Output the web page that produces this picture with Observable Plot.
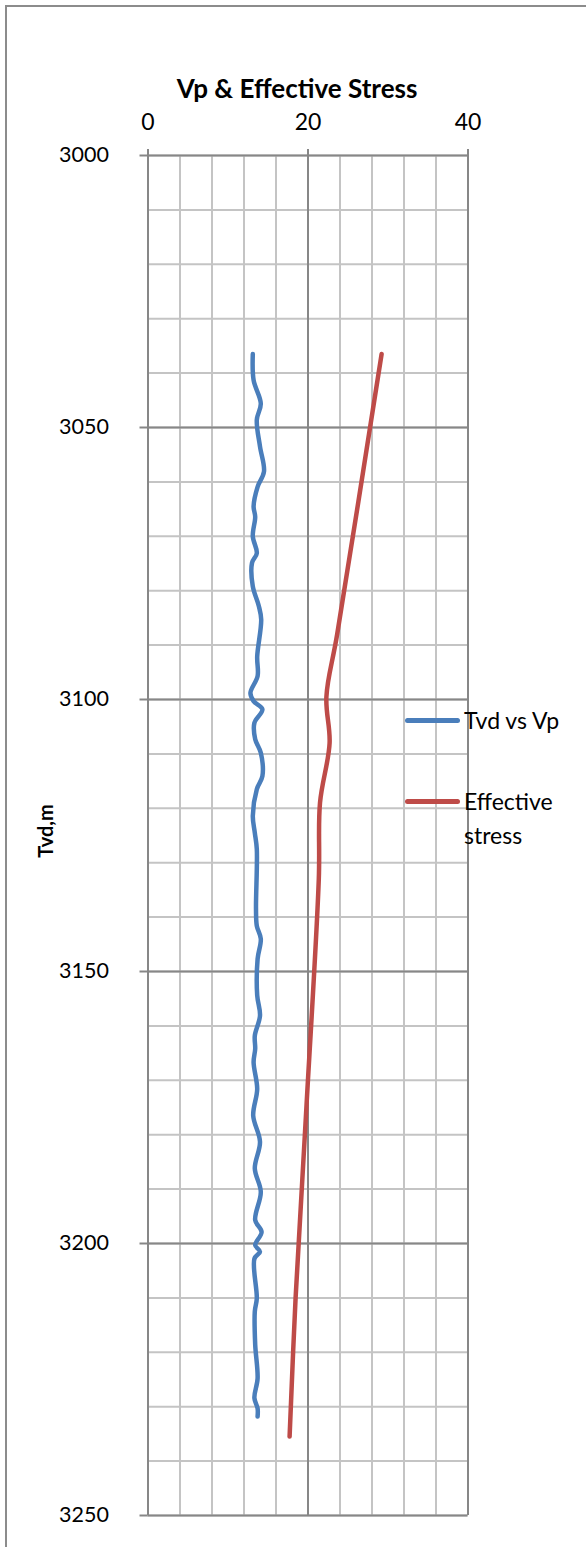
<!DOCTYPE html>
<html>
<head>
<meta charset="utf-8">
<script src="https://cdn.jsdelivr.net/npm/d3@7"></script>
<script src="https://cdn.jsdelivr.net/npm/@observablehq/plot@0.6"></script>
<style>
  html, body { margin: 0; padding: 0; background: #fff; }
  #wrap { position: relative; width: 586px; height: 1547px; overflow: hidden; font-family: Lato, "Open Sans", sans-serif; }
  #frame { position: absolute; left: 5px; top: 5px; width: 600px; height: 1600px; border-left: 2px solid #8c8c8c; border-top: 2px solid #8c8c8c; }
  #title { position: absolute; left: 0; width: 594px; top: 88px; transform: translateY(-50%); text-align: center; font-weight: bold; font-size: 26px; color: #000; }
  #ytitle { position: absolute; left: 45px; top: 831px; transform: translate(-50%, -50%) rotate(-90deg); font-weight: bold; font-size: 20px; white-space: nowrap; }
  .leg { position: absolute; left: 405px; display: flex; align-items: flex-start; font-size: 23px; line-height: 34px; color: #000; }
  .sw { width: 55px; height: 5px; border-radius: 3px; margin-top: 15px; margin-right: 4px; }
  #plot { position: absolute; left: 0; top: 0; }
</style>
</head>
<body>
<div id="wrap">
  <div id="frame"></div>
  <div id="plot"></div>
  <div id="title">Vp &amp; Effective Stress</div>
  <div id="ytitle">Tvd,m</div>
  <div class="leg" style="top:703px"><div class="sw" style="background:#4a7ebb"></div><div>Tvd vs Vp</div></div>
  <div class="leg" style="top:784px"><div class="sw" style="background:#be4b48"></div><div>Effective<br>stress</div></div>
</div>
<script>
// Tvd vs Vp series
const vpDepth = [3036.5,3041.3,3045.6,3048.6,3053.5,3058.1,3060.9,3064.5,3066.4,3070.0,3073.1,3074.9,3079.2,3082.8,3085.3,3092.1,3095.7,3098.8,3100.3,3101.8,3104.3,3107.3,3109.8,3114.1,3116.5,3121.4,3124.5,3127.5,3138.5,3141.6,3144.0,3147.7,3154.4,3158.1,3161.8,3164.2,3166.7,3171.6,3176.5,3181.3,3186.2,3190.5,3195.7,3197.9,3200.3,3201.5,3202.8,3210.1,3212.5,3218.6,3224.8,3228.4,3230.3,3231.8];
const vpValue = [13.1,13.2,14.1,13.6,14.0,14.5,13.7,13.2,13.4,13.1,13.6,13.0,13.1,13.85,14.15,13.65,13.7,12.8,13.2,14.3,13.3,13.4,14.1,14.3,13.6,13.1,13.35,13.6,13.5,13.6,14.1,13.7,13.65,14.0,13.35,13.4,13.2,13.65,13.15,14.0,13.35,14.1,13.4,14.2,13.4,14.0,13.3,13.6,13.35,13.4,13.7,13.3,13.7,13.7];
// Effective stress series
const esDepth = [3036.5,3088,3099.5,3108,3119,3133,3175,3210,3235.5];
const esValue = [29.2,23.65,22.3,22.7,21.5,21.35,19.8,18.45,17.7];
// ticks
const xTicks = [0,20,40];
const xMinor = d3.range(0,41,4);
const yTicks = [3000,3050,3100,3150,3200,3250];
const yMinor = d3.range(3000,3251,10);

const vp = vpDepth.map((d,i)=>({d, v: vpValue[i]}));
const es = esDepth.map((d,i)=>({d, v: esValue[i]}));

const chart = Plot.plot({
  width: 586,
  height: 1547,
  marginLeft: 147.5,
  marginRight: 118.5,
  marginTop: 155,
  marginBottom: 32,
  style: { fontFamily: "Lato, 'Open Sans', sans-serif", fontSize: "22px", color: "#000", background: "transparent" },
  x: { domain: [0,40] },
  y: { domain: [3000,3250], reverse: true },
  marks: [
    Plot.gridX(xMinor, { stroke: "#c4c4c4", strokeOpacity: 1, strokeWidth: 2 }),
    Plot.gridY(yMinor, { stroke: "#c4c4c4", strokeOpacity: 1, strokeWidth: 2 }),
    Plot.gridX(xTicks, { stroke: "#878787", strokeOpacity: 1, strokeWidth: 2 }),
    Plot.gridY(yTicks, { stroke: "#878787", strokeOpacity: 1, strokeWidth: 2 }),
    Plot.axisX(xTicks, { anchor: "top", tickSize: 7, tickPadding: 19, fontSize: 23, stroke: "#878787", strokeWidth: 2, fill: "#000", label: null, tickFormat: d => String(d) }),
    Plot.axisY(yTicks, { anchor: "left", tickSize: 8, tickPadding: 31, fontSize: 21.5, stroke: "#878787", strokeWidth: 2, fill: "#000", label: null, tickFormat: d => String(d) }),
    Plot.line(vp, { x: "v", y: "d", stroke: "#4a7ebb", strokeWidth: 4.5, curve: "catmull-rom", strokeLinecap: "round", strokeLinejoin: "round" }),
    Plot.line(es, { x: "v", y: "d", stroke: "#be4b48", strokeWidth: 4.5, curve: "catmull-rom", strokeLinecap: "round", strokeLinejoin: "round" })
  ]
});
document.getElementById("plot").appendChild(chart);
</script>
</body>
</html>
